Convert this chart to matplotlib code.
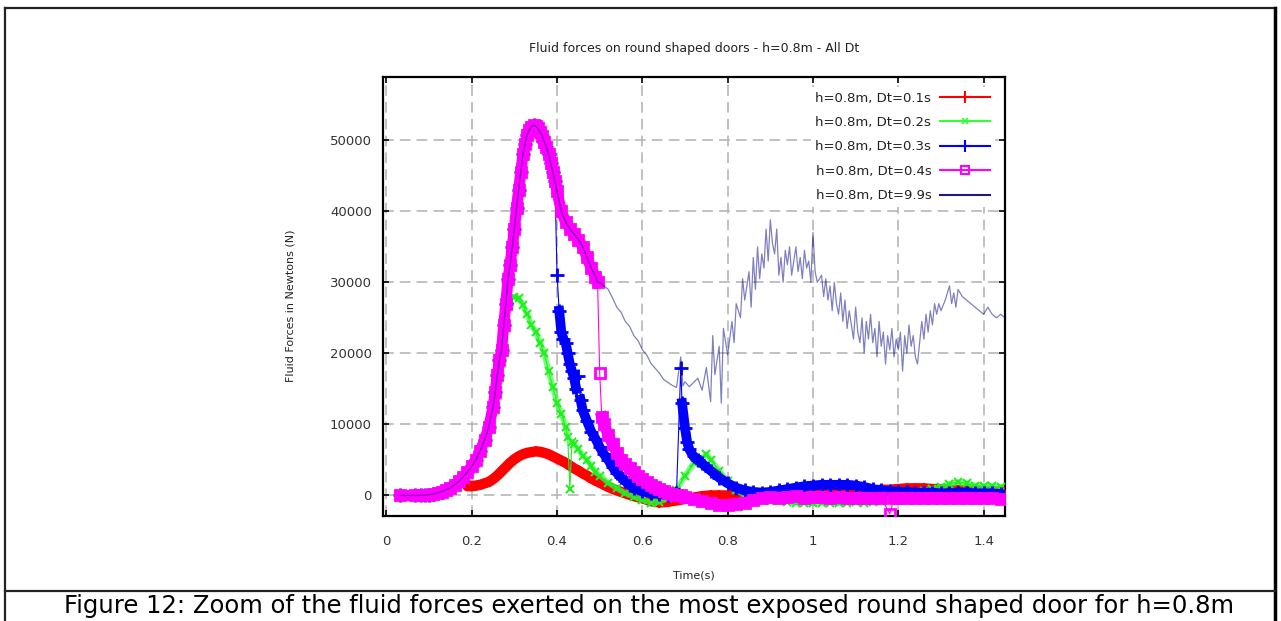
import numpy as np
import matplotlib
matplotlib.use('Agg')
import matplotlib.pyplot as plt
from matplotlib.lines import Line2D

plt.rcParams['font.family'] = ['DejaVu Sans']

# common curve, shared by every run until its own Dt takes over
t_base = [0.032, 0.067, 0.08, 0.09, 0.10, 0.11, 0.12, 0.13, 0.14, 0.15, 0.16, 0.17, 0.18,
          0.19, 0.20, 0.21, 0.22, 0.23, 0.24, 0.25, 0.255, 0.26, 0.265, 0.27, 0.275, 0.28,
          0.285, 0.29, 0.295, 0.30, 0.305, 0.31, 0.315, 0.32, 0.325, 0.33, 0.335, 0.34,
          0.345, 0.35, 0.355, 0.36, 0.365, 0.37, 0.375, 0.38, 0.385, 0.39, 0.395, 0.40,
          0.41, 0.42, 0.43, 0.44, 0.45, 0.46, 0.47, 0.48, 0.49, 0.495]
f_base = [0, 0, 0, 50, 100, 200, 350, 550, 800, 1100, 1500, 2000, 2600,
          3300, 4100, 5000, 6300, 7800, 9600, 12500, 14500, 17000, 19000, 20500, 24000, 27000,
          30500, 32500, 35000, 37500, 40500, 43000, 45500, 48000, 49500, 50800, 51500, 51900,
          52100, 52000, 51700, 51200, 50600, 49800, 49000, 48000, 46800, 45500, 44200, 42800,
          40000, 38500, 37500, 36800, 36000, 35000, 33500, 32000, 30800, 30000]

# Dt = 0.1s
t_red = [0.19, 0.20, 0.21, 0.22, 0.23, 0.24, 0.25, 0.26, 0.27, 0.28, 0.29, 0.30, 0.31, 0.32,
         0.33, 0.34, 0.35, 0.36, 0.37, 0.38, 0.39, 0.40, 0.41, 0.42, 0.43, 0.44, 0.45, 0.46,
         0.47, 0.48, 0.49, 0.50, 0.52, 0.54, 0.56, 0.58, 0.60, 0.62, 0.64, 0.66, 0.68, 0.70,
         0.72, 0.74, 0.76, 0.78, 0.80, 0.82, 0.84, 0.86, 0.88, 0.90, 0.92, 0.94, 0.96, 0.98,
         1.00, 1.02, 1.04, 1.06, 1.08, 1.10, 1.12, 1.14, 1.16, 1.18, 1.20, 1.22, 1.24, 1.26,
         1.28, 1.30, 1.32, 1.34, 1.36, 1.38, 1.40, 1.42, 1.44]
f_red = [1300, 1300, 1400, 1500, 1700, 1900, 2300, 2800, 3400, 4000, 4600, 5100, 5500, 5800,
         6000, 6100, 6200, 6150, 6000, 5800, 5500, 5200, 4900, 4600, 4200, 3800, 3500, 3100,
         2800, 2400, 2100, 1800, 1200, 700, 300, -100, -400, -800, -1000, -900, -700, -500,
         -300, -100, 0, 0, 0, 100, 0, 0, 100, 200, 200, 300, 300, 400,
         400, 500, 500, 500, 600, 600, 700, 700, 800, 800, 900, 1000, 1000, 1000,
         900, 900, 800, 700, 700, 600, 600, 500, 500]

# Dt = 0.2s
t_green = [0.28, 0.29, 0.30, 0.31, 0.32, 0.33, 0.34, 0.35, 0.36, 0.37, 0.38, 0.39, 0.40, 0.41,
           0.42, 0.425, 0.43, 0.435, 0.44, 0.45, 0.46, 0.47, 0.48, 0.49, 0.50, 0.52, 0.54, 0.56,
           0.58, 0.60, 0.62, 0.64, 0.66, 0.68, 0.70, 0.72, 0.74, 0.75, 0.76, 0.78, 0.80, 0.82,
           0.84, 0.86, 0.88, 0.90, 0.92, 0.94, 0.96, 0.98, 1.00, 1.02, 1.04, 1.06, 1.08, 1.10,
           1.12, 1.14, 1.16, 1.18, 1.20, 1.22, 1.24, 1.26, 1.28, 1.30, 1.32, 1.34, 1.36, 1.38,
           1.40, 1.42, 1.44]
f_green = [26500, 27500, 28000, 27800, 26800, 25500, 24000, 23000, 21500, 20000, 17500, 15300, 13000, 11500,
           9700, 8200, 900, 7500, 7200, 6500, 5600, 5000, 4200, 3300, 2800, 1800, 1000, 300,
           -200, -600, -1000, -900, -400, 800, 2800, 4500, 5200, 5800, 5000, 3500, 2000, 800,
           0, -400, -600, -800, -800, -900, -1000, -1000, -1100, -1000, -1000, -1100, -1000, -900,
           -1000, -900, -800, -600, -300, 0, 300, 600, 900, 1200, 1600, 1900, 1700, 1400,
           1300, 1300, 1200]

# Dt = 0.3s
t_blue = [0.40, 0.405, 0.41, 0.415, 0.42, 0.425, 0.43, 0.435, 0.44, 0.445, 0.45, 0.455, 0.46, 0.47,
          0.48, 0.49, 0.50, 0.51, 0.52, 0.53, 0.54, 0.55, 0.56, 0.57, 0.58, 0.60, 0.62, 0.64,
          0.66, 0.68, 0.69, 0.693, 0.70, 0.705, 0.71, 0.72, 0.73, 0.74, 0.76, 0.78, 0.80, 0.82,
          0.84, 0.86, 0.88, 0.90, 0.92, 0.94, 0.96, 0.98, 1.00, 1.02, 1.04, 1.06, 1.08, 1.10,
          1.12, 1.14, 1.16, 1.18, 1.20, 1.22, 1.24, 1.26, 1.28, 1.30, 1.32, 1.34, 1.36, 1.38,
          1.40, 1.42, 1.44]
f_blue = [31000, 26000, 23000, 22000, 21500, 20000, 18500, 17500, 16500, 15000, 16800, 13500, 12000, 10500,
          9000, 8000, 6800, 5800, 5000, 4000, 3200, 2600, 2000, 1500, 1000, 600, 300, 200,
          100, 300, 18000, 13000, 9500, 7500, 6500, 5500, 5000, 4500, 3500, 2500, 1700, 1100,
          700, 500, 400, 500, 700, 900, 1100, 1300, 1400, 1500, 1500, 1500, 1500, 1400,
          1200, 900, 700, 600, 500, 500, 400, 400, 400, 300, 300, 400, 400, 300,
          300, 300, 200]

# Dt = 0.4s
t_mag = [0.50, 0.505, 0.51, 0.52, 0.53, 0.54, 0.55, 0.56, 0.57, 0.58, 0.59, 0.60, 0.61, 0.62,
         0.63, 0.64, 0.65, 0.66, 0.67, 0.68, 0.69, 0.70, 0.72, 0.74, 0.76, 0.78, 0.80, 0.82,
         0.84, 0.86, 0.88, 0.90, 0.92, 0.94, 0.96, 0.98, 1.00, 1.02, 1.04, 1.06, 1.08, 1.10,
         1.12, 1.14, 1.16, 1.18, 1.19, 1.20, 1.22, 1.24, 1.26, 1.28, 1.30, 1.32, 1.34, 1.36,
         1.38, 1.40, 1.42, 1.44]
f_mag = [17200, 11000, 10000, 8500, 7200, 6000, 5000, 4400, 3800, 3300, 2800, 2300, 1900, 1500,
         1200, 900, 600, 400, 200, 100, 0, -200, -500, -800, -1100, -1300, -1300, -1200,
         -1000, -700, -300, -200, -300, -200, -100, -300, -200, -200, -300, -200, -300, -400,
         -300, -400, -300, -2600, -400, -400, -300, -300, -400, -400, -300, -400, -400, -300,
         -400, -400, -300, -500]

# Dt = 9.9s
t_navy = [0.50, 0.51, 0.52, 0.53, 0.54, 0.55, 0.56, 0.57, 0.58, 0.59, 0.60, 0.61, 0.62, 0.63,
          0.64, 0.65, 0.66, 0.67, 0.68, 0.69, 0.695, 0.70, 0.71, 0.72, 0.73, 0.74, 0.75, 0.76,
          0.765, 0.77, 0.78, 0.785, 0.79, 0.80, 0.81, 0.815, 0.82, 0.83, 0.835, 0.84, 0.85, 0.855,
          0.86, 0.865, 0.87, 0.875, 0.88, 0.885, 0.89, 0.895, 0.90, 0.905, 0.91, 0.915, 0.92, 0.925,
          0.93, 0.935, 0.94, 0.945, 0.95, 0.955, 0.96, 0.965, 0.97, 0.975, 0.98, 0.985, 0.99, 0.995,
          1.00, 1.005, 1.01, 1.02, 1.025, 1.03, 1.035, 1.04, 1.045, 1.05, 1.055, 1.06, 1.065, 1.07,
          1.075, 1.08, 1.085, 1.09, 1.095, 1.10, 1.105, 1.11, 1.115, 1.12, 1.125, 1.13, 1.135, 1.14,
          1.145, 1.15, 1.155, 1.16, 1.165, 1.17, 1.175, 1.18, 1.185, 1.19, 1.195, 1.20, 1.205, 1.21,
          1.215, 1.22, 1.225, 1.23, 1.235, 1.24, 1.245, 1.25, 1.255, 1.26, 1.265, 1.27, 1.275, 1.28,
          1.285, 1.29, 1.295, 1.30, 1.31, 1.32, 1.325, 1.33, 1.335, 1.34, 1.35, 1.36, 1.37, 1.38,
          1.39, 1.40, 1.41, 1.42, 1.43, 1.44, 1.45]
f_navy = [30000, 29500, 29000, 27800, 26500, 25800, 24500, 23800, 22500, 21800, 20500, 19800, 18600, 17900,
          17200, 16300, 15900, 15500, 15200, 19500, 15400, 16000, 15300, 15900, 16500, 14800, 18000, 13200,
          22500, 17000, 21000, 13000, 23500, 19800, 24500, 21500, 27000, 25000, 30500, 27500, 31500, 26500,
          33500, 29000, 35000, 30500, 34000, 32000, 37500, 33000, 38800, 35500, 34000, 37500, 31000, 33500,
          30000, 34500, 32500, 35000, 31000, 33000, 35000, 31500, 33500, 30500, 34500, 32000, 33000, 30000,
          37000, 31500, 30000, 31000, 28000, 30500, 27500, 29500, 26000, 30000, 27000, 25500, 28500, 24500,
          27500, 23500, 26000, 24000, 22000, 26500, 23000, 21500, 25000, 20000, 24500, 22000, 25500, 21500,
          23500, 19500, 24500, 21000, 23000, 18500, 22500, 20500, 23500, 19500, 22000, 20500, 23000, 17500,
          22500, 20000, 24000, 21000, 22500, 19500, 18500, 21500, 24500, 22000, 25500, 23000, 26000, 24000,
          27000, 25500, 27000, 26000, 27500, 29500, 27000, 28500, 26500, 29000, 28000, 27500, 27000, 26500,
          26000, 25500, 26500, 25500, 25000, 25500, 25000]

labels = ['h=0.8m, Dt=0.1s', 'h=0.8m, Dt=0.2s', 'h=0.8m, Dt=0.3s',
          'h=0.8m, Dt=0.4s', 'h=0.8m, Dt=9.9s']
x_ticks = [0, 0.2, 0.4, 0.6, 0.8, 1, 1.2, 1.4]
x_ticklabels = ['0', '0.2', '0.4', '0.6', '0.8', '1', '1.2', '1.4']
y_ticks = [0, 10000, 20000, 30000, 40000, 50000]


def join(cut, t, f):
    tb = np.array(t_base)
    fb = np.array(f_base)
    keep = tb < cut
    return np.concatenate([tb[keep], t]), np.concatenate([fb[keep], f])


def band(t, f, thr=4000, spike=1500):
    # thick band where the marks pile up, broken on big jumps and lone spikes
    n = len(t)
    lone = np.zeros(n, bool)
    for i in range(1, n - 1):
        a, b = f[i] - f[i - 1], f[i] - f[i + 1]
        if abs(a) > spike and abs(b) > spike and a * b > 0:
            lone[i] = True
    xs, ys = [], []
    for i in range(n):
        if i > 0 and (abs(f[i] - f[i - 1]) > thr or lone[i] or lone[i - 1]):
            xs.append(np.nan)
            ys.append(np.nan)
        xs.append(t[i])
        ys.append(f[i] if not lone[i] else np.nan)
    return xs, ys


tr, fr = join(0.185, t_red, f_red)
tg, fg = join(0.275, t_green, f_green)
tbl, fbl = join(0.399, t_blue, f_blue)
tm, fm = join(0.499, t_mag, f_mag)
tn, fn = join(0.499, t_navy, f_navy)

fig = plt.figure(figsize=(12.81, 6.21), dpi=100)
ax = fig.add_axes([0.299, 0.169, 0.4855, 0.707])

# red
ax.plot(*band(tr, fr), color='#ff0000', lw=7.5, zorder=3)
ax.plot(tr, fr, color='#ff0000', lw=0.8, marker='+', ms=7, mew=1.5, zorder=3)
# green
ax.plot(*band(tg, fg), color='#33ff33', lw=4, alpha=0.7, zorder=4)
ax.plot(tg, fg, color='#22ee22', lw=0.8, marker='x', ms=6, mew=1.5, zorder=4)
# blue
ax.plot(*band(tbl, fbl), color='#0000ff', lw=7, zorder=5)
ax.plot(tbl, fbl, color='#0000ff', lw=0.8, marker='+', ms=10, mew=2, zorder=5)
# magenta
ax.plot(*band(tm, fm), color='#ff00ff', lw=8, zorder=6)
ax.plot(tm, fm, color='#ff00ff', lw=0.8, marker='s', ms=7, mfc='none', mew=2, zorder=6)
# navy
ax.plot(tn, fn, color='#000080', lw=0.9, alpha=0.5, zorder=7)

ax.set_xlim(-0.008, 1.45)
ax.set_ylim(-2900, 58900)
ax.set_xticks(x_ticks)
ax.set_xticklabels(x_ticklabels)
ax.set_yticks(y_ticks)
ax.tick_params(direction='in', top=True, right=True, length=4.5, width=1.2,
               labelsize=9.5, colors='black', labelcolor='#333333')
ax.tick_params(axis='x', pad=14)
ax.tick_params(axis='y', pad=8)
ax.grid(True, color='#b0b0b0', ls=(0, (7, 4)), lw=1.1)
for s in ax.spines.values():
    s.set_linewidth(1.6)

ax.set_title('Fluid forces on round shaped doors - h=0.8m - All Dt', fontsize=9, pad=18,
             color='#222222')
ax.set_ylabel('Fluid Forces in Newtons (N)', fontsize=8, color='#222222')
ax.yaxis.set_label_coords(-0.14, 0.478)
ax.set_xlabel('Time(s)', fontsize=8, labelpad=16, color='#222222')

handles = [
    Line2D([], [], color='#ff0000', lw=1.5, marker='+', ms=8, mew=1.5),
    Line2D([], [], color='#33ff33', lw=1.5, marker='x', ms=5, mew=1.2),
    Line2D([], [], color='#0000ff', lw=1.5, marker='+', ms=8, mew=1.5),
    Line2D([], [], color='#ff00ff', lw=1.5, marker='s', ms=6, mfc='none', mew=1.5),
    Line2D([], [], color='#1a1a80', lw=1.5),
]
leg = ax.legend(handles, labels, loc='upper right', markerfirst=False, fontsize=9.5,
                handlelength=3.8, labelspacing=0.87, borderaxespad=0.75,
                frameon=True, fancybox=False, framealpha=1, edgecolor='none',
                facecolor='white', borderpad=0.35, handletextpad=0.68)
leg.set_zorder(10)
for txt in leg.get_texts():
    txt.set_color('#222222')

# page frame and caption
fig.add_artist(Line2D([0.004, 0.004], [0.0, 0.987], color='#222222', lw=1.6))
fig.add_artist(Line2D([0.004, 0.9955], [0.987, 0.987], color='#222222', lw=1.6))
fig.add_artist(Line2D([0.9955, 0.9955], [0.0, 0.987], color='black', lw=2.5))
fig.add_artist(Line2D([0.004, 0.9955], [0.048, 0.048], color='#222222', lw=1.6))
fig.text(0.507, 0.024, 'Figure 12: Zoom of the fluid forces exerted on the most exposed round shaped door for h=0.8m',
         ha='center', va='center', fontsize=17.5)

fig.savefig('out.png', dpi=100)
